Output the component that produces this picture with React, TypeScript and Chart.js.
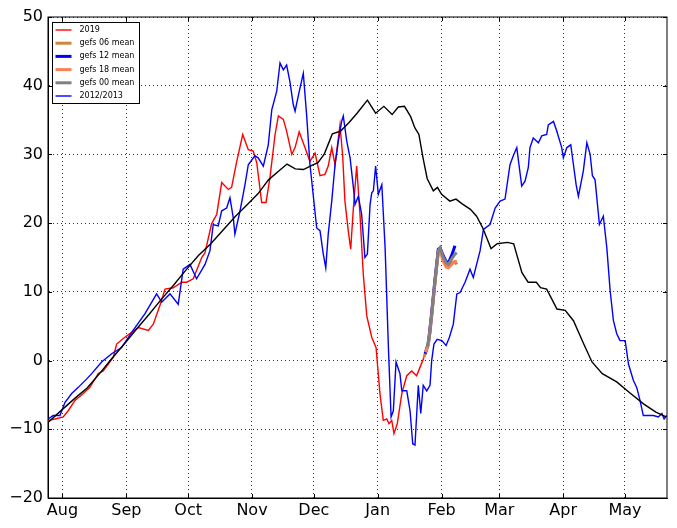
import React, { useEffect, useRef } from 'react';
import { Chart, registerables } from 'chart.js';

Chart.register(...registerables);

// x values are days counted from 1 Aug
const monthDays = [0, 31, 61, 92, 122, 153, 184, 212, 243, 273];
const monthLabels = ['Aug', 'Sep', 'Oct', 'Nov', 'Dec', 'Jan', 'Feb', 'Mar', 'Apr', 'May'];
const yTicks = [-20, -10, 0, 10, 20, 30, 40, 50];

const climDays = [-7, 0, 6, 12, 18, 24, 30, 36, 42, 48, 54, 60, 66, 72, 78, 84, 90, 95, 100, 105, 109, 113, 117, 121, 124, 127, 129, 131, 135, 139, 143, 148, 152, 156, 160, 163, 166, 169, 171, 173, 175, 177, 180, 182, 184, 188, 191, 194, 198, 201, 204, 208, 211, 216, 219, 223, 226, 230, 232, 235, 240, 244, 248, 253, 257, 262, 269, 275, 282, 288, 293];
const climValues = [-9.0, -7.1, -5.5, -4.0, -1.9, 0.3, 2.4, 4.6, 6.7, 8.9, 11.0, 13.2, 15.3, 17.0, 19.0, 21.0, 22.8, 24.3, 26.3, 27.6, 28.6, 27.9, 27.8, 28.4, 28.8, 30.0, 31.5, 33.0, 33.4, 34.6, 36.0, 37.9, 36.0, 37.0, 35.8, 36.9, 37.0, 35.5, 33.9, 32.9, 29.5, 26.5, 24.7, 25.2, 24.2, 23.2, 23.5, 22.8, 22.0, 21.0, 19.3, 16.3, 17.0, 17.2, 17.0, 12.8, 11.4, 11.4, 10.6, 10.4, 7.5, 7.3, 5.8, 2.4, -0.2, -1.9, -3.1, -4.6, -6.3, -7.5, -8.2];

const days2019 = [-7, -3.6, 0.4, 2.8, 6.1, 10.1, 13.3, 17.4, 19.8, 24.7, 26.3, 30.3, 33.6, 36.8, 41.7, 44.1, 47.3, 49.8, 53.8, 57.9, 60.3, 63.5, 67.6, 69.2, 72.4, 74.9, 77.3, 80.5, 82.1, 84.6, 87.5, 90.2, 92.6, 94.3, 96.7, 98.8, 100.7, 103.2, 104.8, 107.2, 108.8, 111.3, 112.9, 114.9, 117.7, 120.1, 122.6, 125, 127.4, 129, 130.7, 132.3, 134.7, 136, 137.1, 138.7, 139.9, 141.2, 142.8, 144.4, 146, 147.7, 150.1, 152.2, 154.1, 155.7, 157.4, 158.5, 159.8, 160.9, 162.5, 164.7, 167.1, 169.5, 171.9, 173.9, 175.5];
const values2019 = [-8.7, -8.5, -8.2, -7.3, -5.8, -4.8, -3.9, -1.9, -1.5, 0.5, 2.4, 3.4, 4.1, 4.8, 4.4, 5.3, 8.0, 10.4, 10.6, 11.4, 11.4, 11.9, 15.0, 15.7, 19.9, 21.3, 25.9, 24.9, 25.2, 29.0, 32.9, 30.7, 30.5, 28.8, 23.0, 23.0, 26.6, 32.9, 35.6, 35.1, 33.4, 30.0, 31.0, 33.3, 31.0, 29.0, 30.2, 26.9, 27.1, 28.3, 31.0, 28.5, 34.3, 29.8, 23.2, 18.9, 16.2, 22.2, 28.3, 21.3, 12.6, 6.5, 3.4, 1.9, -4.8, -8.7, -8.5, -9.2, -8.7, -10.6, -9.2, -4.8, -2.2, -1.5, -2.2, -0.7, 0.5];

const days1213 = [-7, -4.5, -1.2, 1.2, 4.5, 7.7, 11.7, 14.2, 19, 23.9, 28.7, 33.6, 40, 45.7, 48.2, 52.2, 56.2, 58.6, 61.9, 65.1, 69.2, 71.6, 73.2, 75.6, 77.3, 79.7, 81.3, 82.9, 83.7, 86.2, 88.6, 90.2, 93.4, 95, 97.5, 99.9, 101.6, 104, 105.6, 107.2, 108.8, 110.4, 112, 112.9, 115.3, 116.9, 118.5, 120.1, 121, 123.4, 125, 126.6, 127.8, 129, 130.7, 132.3, 133.9, 135.5, 136.3, 138, 139.6, 141.2, 142, 143.6, 145.2, 146.8, 148, 149.3, 150.1, 150.9, 152, 153.3, 155, 156.6, 158.2, 159.5, 160.6, 161.9, 163.8, 164.7, 167.1, 168.7, 170, 171.1, 172.7, 173.9, 175.1, 176.8, 178.4, 179.2, 180.3, 181.9, 184.1, 186.2, 187.8, 189.7, 191.4, 193, 195.4, 197.8, 199.4, 202.7, 204.3, 207.5, 210, 212.4, 214.8, 217.2, 218.8, 220.5, 222.9, 224.5, 226.1, 226.9, 228.5, 231, 232.6, 235, 235.8, 238.3, 239.9, 242.3, 243.1, 244.8, 246.7, 248, 249.3, 250.4, 252.8, 254.5, 256.1, 257.2, 258.5, 260.6, 262.5, 264.2, 265.8, 267.4, 269, 270.6, 273.1, 274.7, 277.1, 278.7, 280.3, 281.9, 283.6, 286.8, 289.2, 290.9, 292, 293.3];
const values1213 = [-8.5, -8.0, -8.0, -6.1, -4.8, -3.9, -2.7, -1.9, -0.2, 1.0, 1.9, 4.1, 6.8, 9.7, 8.5, 9.7, 8.2, 13.3, 14.0, 11.9, 14.0, 16.0, 19.8, 19.6, 21.8, 22.2, 23.7, 20.8, 18.4, 21.8, 25.6, 28.5, 29.8, 29.5, 28.3, 31.4, 36.5, 39.2, 43.3, 42.3, 43.0, 40.6, 37.3, 36.3, 39.7, 41.8, 35.8, 28.6, 26.1, 19.3, 18.9, 15.5, 13.5, 18.4, 23.2, 28.5, 31.9, 34.8, 35.6, 31.9, 29.5, 25.2, 22.7, 23.9, 21.3, 15.0, 15.5, 22.7, 24.4, 24.7, 28.3, 24.2, 25.6, 16.4, 1.9, -8.2, -7.3, -0.2, -1.9, -4.4, -4.4, -7.3, -12.1, -12.3, -3.6, -7.7, -3.6, -4.4, -3.6, 0.0, 2.4, 3.1, 2.9, 2.2, 3.4, 5.3, 9.7, 9.9, 11.4, 13.3, 12.1, 16.0, 19.1, 19.8, 22.2, 23.2, 23.5, 28.5, 29.8, 31.0, 25.4, 26.1, 28.1, 31.0, 32.4, 31.7, 32.7, 32.9, 34.3, 34.8, 33.4, 31.0, 29.5, 31.0, 31.4, 28.5, 25.6, 23.9, 27.6, 31.7, 30.0, 26.9, 26.3, 19.8, 21.0, 16.4, 10.2, 5.8, 3.9, 2.9, 2.9, -0.5, -2.9, -3.9, -5.8, -8.0, -8.0, -8.0, -8.2, -7.7, -8.5, -8.0];

const gefs06Days = [175.5, 177.5, 179.2, 180.8, 182.4, 183.3, 184.6, 186.2, 187.3, 188.9, 190.5, 191.4];
const gefs06Values = [0.5, 2.3, 6.5, 11.4, 15.8, 16.2, 15.0, 13.8, 13.6, 14.2, 14.4, 14.0];
const gefs12Days = [176, 177.6, 179.2, 180.8, 182.4, 183.3, 184.6, 186.2, 187.3, 188.9, 190.5];
const gefs12Values = [1.0, 2.5, 7.0, 11.8, 16.2, 16.4, 15.4, 14.4, 14.2, 15.3, 16.7];
const gefs18Days = [176.2, 177.6, 179.2, 180.8, 182.4, 183.3, 184.6, 186.2, 187.3, 188.9, 190.5, 191.4];
const gefs18Values = [1.2, 2.3, 6.6, 11.4, 15.8, 16.0, 14.6, 13.6, 13.5, 14.0, 14.4, 14.4];
const gefs00Days = [177, 178.4, 179.8, 181.2, 182.4, 183.3, 184.6, 186.2, 187.3, 188.9, 190.5, 191.4];
const gefs00Values = [2.0, 4.0, 8.5, 12.5, 16.0, 16.4, 15.2, 14.2, 14.0, 14.8, 15.5, 15.7];

const pts = (xs: number[], ys: number[]) => xs.map((x, i) => ({ x, y: ys[i] }));
const tickFont = { family: 'DejaVu Sans', size: 16 };

const framePlugin = {
  id: 'frame',
  afterDraw(chart: any) {
    const { ctx, chartArea: a, scales } = chart;
    ctx.save();
    ctx.strokeStyle = '#000';
    ctx.lineWidth = 1;
    ctx.setLineDash([]);
    ctx.strokeRect(a.left, a.top, a.right - a.left, a.bottom - a.top);

    // inward tick marks on all four sides
    ctx.beginPath();
    monthDays.forEach((d) => {
      const px = Math.round(scales.x.getPixelForValue(d)) + 0.5;
      ctx.moveTo(px, a.bottom);
      ctx.lineTo(px, a.bottom - 4);
      ctx.moveTo(px, a.top);
      ctx.lineTo(px, a.top + 4);
    });
    yTicks.forEach((v) => {
      const py = Math.round(scales.y.getPixelForValue(v)) + 0.5;
      ctx.moveTo(a.left, py);
      ctx.lineTo(a.left + 4, py);
      ctx.moveTo(a.right, py);
      ctx.lineTo(a.right - 4, py);
    });
    ctx.stroke();

    // legend box
    const items = chart.data.datasets.filter((ds: any) => ds.label);
    const bx = 52.5;
    const by = 22.5;
    const rowH = 13.2;
    ctx.fillStyle = '#fff';
    ctx.fillRect(bx, by, 87, 81);
    ctx.strokeRect(bx, by, 87, 81);
    ctx.font = '8px "DejaVu Sans"';
    ctx.textBaseline = 'middle';
    items.forEach((ds: any, i: number) => {
      const y = by + 7.5 + i * rowH;
      ctx.beginPath();
      ctx.strokeStyle = ds.borderColor;
      ctx.lineWidth = ds.borderWidth;
      ctx.moveTo(bx + 3, y);
      ctx.lineTo(bx + 19, y);
      ctx.stroke();
      ctx.fillStyle = '#000';
      ctx.fillText(ds.label, bx + 27, y);
    });
    ctx.restore();
  },
};

export default function App() {
  const ref = useRef<HTMLCanvasElement>(null);

  useEffect(() => {
    const line = (label: string, xs: number[], ys: number[], color: string, width: number, order: number) => ({
      label,
      data: pts(xs, ys),
      borderColor: color,
      borderWidth: width,
      pointRadius: 0,
      tension: 0,
      fill: false,
      order,
    });

    const chart = new Chart(ref.current, {
      type: 'line',
      data: {
        datasets: [
          line('2019', days2019, values2019, '#ff0000', 1.4, 6),
          line('gefs 06 mean', gefs06Days, gefs06Values, '#cd853f', 3, 5),
          line('gefs 12 mean', gefs12Days, gefs12Values, '#0000ff', 3, 4),
          line('gefs 18 mean', gefs18Days, gefs18Values, '#ff7f50', 3, 3),
          line('gefs 00 mean', gefs00Days, gefs00Values, '#808080', 3, 2),
          line('2012/2013', days1213, values1213, '#0000ff', 1.4, 1),
          line('', climDays, climValues, '#000000', 1.4, 0),
        ],
      },
      options: {
        animation: false,
        responsive: true,
        maintainAspectRatio: false,
        layout: { padding: { top: 17, right: 10, left: 0, bottom: 0 } },
        plugins: { legend: { display: false }, tooltip: { enabled: false } },
        scales: {
          x: {
            type: 'linear',
            min: -7,
            max: 293.4,
            afterBuildTicks: (s: any) => {
              s.ticks = monthDays.map((value) => ({ value }));
            },
            afterFit: (s: any) => {
              s.height = 30;
            },
            ticks: {
              autoSkip: false,
              maxRotation: 0,
              padding: 3,
              color: '#000',
              font: tickFont,
              callback: (v: any) => monthLabels[monthDays.indexOf(v)] ?? '',
            },
            grid: { color: '#000', lineWidth: 0.8, drawTicks: false },
            border: { color: '#000', width: 1, dash: [1, 3] },
          },
          y: {
            min: -20,
            max: 50,
            afterBuildTicks: (s: any) => {
              s.ticks = yTicks.map((value) => ({ value }));
            },
            afterFit: (s: any) => {
              s.width = 48;
            },
            ticks: {
              padding: 5,
              color: '#000',
              font: tickFont,
              callback: (v: any) => String(v).replace('-', '\u2212'),
            },
            grid: { color: '#000', lineWidth: 0.8, drawTicks: false },
            border: { color: '#000', width: 1, dash: [1, 3] },
          },
        },
      },
      plugins: [framePlugin],
    });

    return () => {
      chart.destroy();
    };
  }, []);

  return (
    <div style={{ position: 'fixed', left: 0, top: 0, width: 677, height: 528, background: '#fff' }}>
      <canvas ref={ref} />
    </div>
  );
}
